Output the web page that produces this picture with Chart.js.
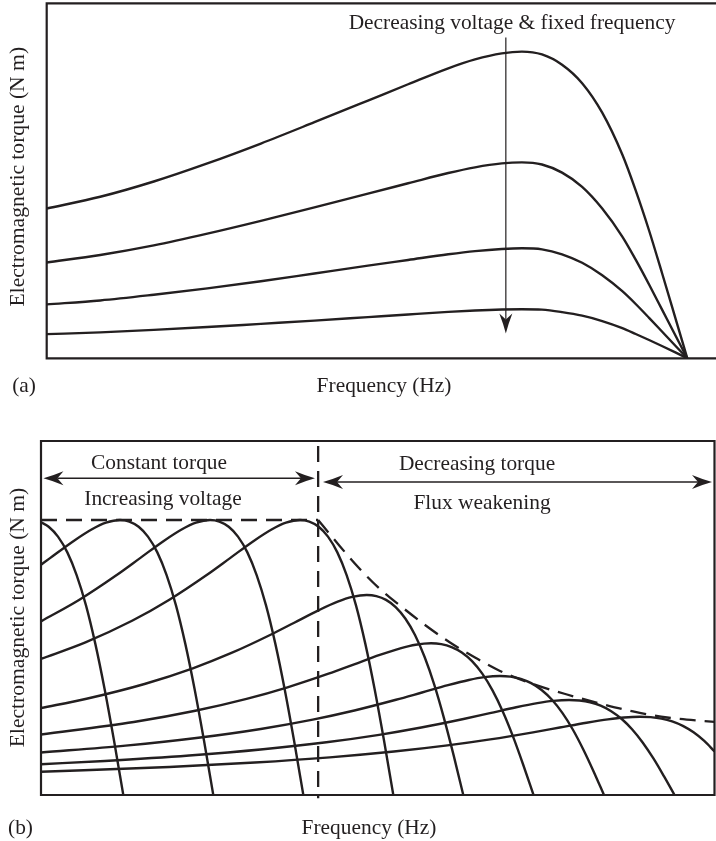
<!DOCTYPE html>
<html>
<head>
<meta charset="utf-8">
<script src="https://cdn.jsdelivr.net/npm/chart.js@4.4.1/dist/chart.umd.min.js"></script>
<style>
html, body { margin: 0; padding: 0; background: #ffffff; overflow: hidden; }
#wrapA { position: absolute; left: 0; top: 0; width: 716px; height: 420px; }
#wrapB { position: absolute; left: 0; top: 420px; width: 716px; height: 421px; }
canvas { display: block; }
</style>
</head>
<body>
<div id="wrapA"><canvas id="chartA" width="716" height="420"></canvas></div>
<div id="wrapB"><canvas id="chartB" width="716" height="421"></canvas></div>
<script>
// ---------- Panel (a): decreasing voltage, fixed frequency (normalised units) ----------
const freqA    = [0, 8, 16, 24, 32, 40, 48, 54, 60, 64, 68, 71, 74, 77, 80, 83, 86, 88, 90, 92, 94, 95.71];
const torqueA1 = [42.2, 45.5, 49.8, 54.9, 60.5, 66.5, 72.6, 77.2, 81.7, 84.2, 85.9, 86.4, 85.6, 82.7, 77.5, 69.2, 57.4, 47.3, 36.0, 23.6, 10.9, 0];
const torqueA2 = [27.0, 29.1, 31.8, 35.1, 38.7, 42.5, 46.4, 49.3, 52.2, 53.8, 54.9, 55.2, 54.6, 52.3, 48.3, 42.2, 34.3, 27.8, 20.8, 13.5, 6.2, 0];
const torqueA3 = [15.2, 16.3, 17.9, 19.7, 21.7, 23.9, 26.1, 27.7, 29.3, 30.2, 30.8, 31.0, 30.7, 29.3, 26.9, 23.4, 18.9, 15.3, 11.4, 7.4, 3.4, 0];
const torqueA4 = [6.8, 7.3, 8.0, 8.8, 9.7, 10.6, 11.6, 12.35, 13.07, 13.47, 13.74, 13.82, 13.70, 13.0, 12.0, 10.5, 8.5, 6.85, 5.15, 3.4, 1.6, 0];

// ---------- Panel (b): constant torque / flux weakening family ----------
const freqB1   = [0, 1.14, 2.52, 3.91, 5.29, 6.68, 8.06, 9.45, 10.84, 12.22];
const torqueB1 = [77.07, 75.78, 72.99, 68.54, 62.14, 53.58, 42.76, 29.88, 15.38, 0];
const freqB2   = [0, 1.34, 4.80, 7.57, 9.65, 11.73, 13.11, 14.50, 15.88, 17.27, 18.65, 20.04, 21.42, 22.81, 24.20, 25.58];
const torqueB2 = [65.06, 66.92, 71.71, 75.08, 76.93, 77.68, 77.25, 75.78, 72.99, 68.54, 62.14, 53.58, 42.76, 29.88, 15.38, 0];
const freqB3   = [0, 5.70, 11.24, 14.71, 18.17, 20.94, 23.02, 25.10, 26.48, 27.87, 29.25, 30.64, 32.02, 33.41, 34.79, 36.18, 37.57, 38.95];
const torqueB3 = [49.05, 55.16, 62.14, 66.92, 71.71, 75.08, 76.93, 77.68, 77.25, 75.78, 72.99, 68.54, 62.14, 53.58, 42.76, 29.88, 15.38, 0];
const freqB4   = [0, 6.60, 13.52, 19.06, 24.60, 28.07, 31.53, 34.30, 36.38, 38.46, 39.84, 41.23, 42.61, 44.00, 45.38, 46.77, 48.15, 49.54, 50.93, 52.31];
const torqueB4 = [38.45, 43.12, 49.21, 55.16, 62.14, 66.92, 71.71, 75.08, 76.93, 77.68, 77.25, 75.78, 72.99, 68.54, 62.14, 53.58, 42.76, 29.88, 15.38, 0];
const freqB5   = [0, 6.76, 15.37, 22.54, 28.28, 34.01, 37.60, 41.19, 44.05, 46.21, 48.36, 49.79, 51.23, 52.66, 54.09, 55.53, 56.96, 58.40, 59.83, 61.27, 62.70];
const torqueB5 = [24.56, 27.19, 31.36, 35.79, 40.12, 45.20, 48.67, 52.16, 54.61, 55.95, 56.50, 56.19, 55.12, 53.09, 49.86, 45.20, 38.97, 31.10, 21.73, 11.19, 0];
const freqB6   = [0, 13.78, 22.91, 30.52, 36.60, 42.69, 46.50, 50.30, 53.35, 55.63, 57.91, 59.43, 60.96, 62.48, 64.00, 65.52, 67.04, 68.56, 70.09, 71.61, 73.13];
const torqueB6 = [17.10, 20.62, 23.79, 27.15, 30.43, 34.28, 36.92, 39.56, 41.41, 42.43, 42.85, 42.61, 41.80, 40.26, 37.81, 34.28, 29.55, 23.59, 16.48, 8.48, 0];
const freqB7   = [0, 12.56, 23.37, 32.63, 40.35, 46.53, 52.71, 56.57, 60.43, 63.52, 65.83, 68.15, 69.69, 71.24, 72.78, 74.33, 75.87, 77.41, 78.96, 80.50, 82.05, 83.59];
const torqueB7 = [12.01, 13.96, 16.18, 18.66, 21.30, 23.87, 26.90, 28.96, 31.03, 32.49, 33.29, 33.62, 33.44, 32.80, 31.59, 29.67, 26.90, 23.19, 18.51, 12.93, 6.66, 0];
const freqB8   = [0, 9.47, 22.00, 32.97, 42.37, 50.20, 56.46, 62.73, 66.65, 70.56, 73.70, 76.05, 78.40, 79.96, 81.53, 83.09, 84.66, 86.23, 87.79, 89.36, 90.93, 92.49, 94.06];
const torqueB8 = [8.70, 9.61, 11.14, 12.92, 14.90, 17.00, 19.06, 21.47, 23.12, 24.78, 25.94, 26.58, 26.84, 26.69, 26.19, 25.22, 23.68, 21.47, 18.51, 14.78, 10.32, 5.31, 0];
const freqB9   = [0, 19.04, 31.75, 42.87, 52.40, 60.35, 66.70, 73.06, 77.03, 81.00, 84.18, 86.56, 88.94, 90.53, 92.12, 93.71, 95.30, 96.89, 98.48, 100];
const torqueB9 = [6.55, 7.92, 9.18, 10.64, 12.28, 14.01, 15.71, 17.70, 19.06, 20.42, 21.38, 21.91, 22.12, 22.00, 21.58, 20.78, 19.52, 17.70, 15.26, 12.31];

// dashed envelope and base-frequency line
const envFlatFreq   = [0, 41.15];
const envFlatTorque = [77.68, 77.68];
const envDropFreq   = [41.15, 44.10, 47.07, 50.33, 53.30, 57.02, 60.73, 64.44, 68.15, 73.05, 78.10, 83.0, 87.90, 92.95, 100];
const envDropTorque = [77.68, 70.90, 64.41, 58.19, 53.53, 48.02, 43.08, 38.84, 35.03, 31.36, 28.39, 25.85, 23.59, 21.89, 20.65];
const baseFreq   = [41.15, 41.15];
const baseTorque = [98.6, -0.9];

// ---------- styling / helpers ----------
const INK = '#231f20';
const FONT = '21.4px "Liberation Serif", "Times New Roman", serif';
const FONT_ROT = '21.6px "Liberation Serif", "Times New Roman", serif';

function pts(xs, ys) { return xs.map((x, i) => ({ x: x, y: ys[i] })); }
function curve(xs, ys) {
  return { data: pts(xs, ys), borderColor: INK, borderWidth: 2.4, pointRadius: 0, fill: false,
           cubicInterpolationMode: 'monotone', tension: 0.4 };
}
function dashed(xs, ys, smooth, noClip) {
  const d = { data: pts(xs, ys), borderColor: INK, borderWidth: 2.3, pointRadius: 0, fill: false,
              borderDash: [16, 9], tension: 0, cubicInterpolationMode: smooth ? 'monotone' : 'default' };
  if (smooth) d.tension = 0.4;
  if (noClip) d.clip = false;
  return d;
}

function arrowHead(ctx, tx, ty, dx, dy, len, half, notch) {
  const px = -dy, py = dx;
  const bx = tx - dx * len, by = ty - dy * len;
  const nx = tx - dx * notch, ny = ty - dy * notch;
  ctx.beginPath();
  ctx.moveTo(tx, ty);
  ctx.quadraticCurveTo(tx - dx * len * 0.45 + px * half * 0.35, ty - dy * len * 0.45 + py * half * 0.35, bx + px * half, by + py * half);
  ctx.lineTo(nx, ny);
  ctx.lineTo(bx - px * half, by - py * half);
  ctx.quadraticCurveTo(tx - dx * len * 0.45 - px * half * 0.35, ty - dy * len * 0.45 - py * half * 0.35, tx, ty);
  ctx.closePath();
  ctx.fill();
}

const annotate = {
  id: 'annotate',
  afterDatasetsDraw(chart, args, o) {
    const ctx = chart.ctx, xs = chart.scales.x, ys = chart.scales.y, a = chart.chartArea;
    ctx.save();
    ctx.strokeStyle = INK; ctx.fillStyle = INK;
    ctx.setLineDash([]);
    // frame
    ctx.lineWidth = 2.2;
    ctx.lineCap = 'square';
    ctx.beginPath();
    if (o.frame.indexOf('t') >= 0) { ctx.moveTo(a.left, a.top); ctx.lineTo(a.right, a.top); }
    if (o.frame.indexOf('l') >= 0) { ctx.moveTo(a.left, a.top); ctx.lineTo(a.left, a.bottom); }
    if (o.frame.indexOf('b') >= 0) { ctx.moveTo(a.left, a.bottom); ctx.lineTo(a.right, a.bottom); }
    if (o.frame.indexOf('r') >= 0) { ctx.moveTo(a.right, a.top); ctx.lineTo(a.right, a.bottom); }
    ctx.stroke();
    ctx.lineCap = 'butt';
    // arrows
    (o.arrows || []).forEach(ar => {
      const x1 = xs.getPixelForValue(ar.x1), y1 = ys.getPixelForValue(ar.y1);
      const x2 = xs.getPixelForValue(ar.x2), y2 = ys.getPixelForValue(ar.y2);
      const L = Math.hypot(x2 - x1, y2 - y1), ux = (x2 - x1) / L, uy = (y2 - y1) / L;
      ctx.lineWidth = ar.w;
      ctx.beginPath();
      ctx.moveTo(x1 + (ar.both ? ux * ar.notch : 0), y1 + (ar.both ? uy * ar.notch : 0));
      ctx.lineTo(x2 - ux * ar.notch, y2 - uy * ar.notch);
      ctx.stroke();
      arrowHead(ctx, x2, y2, ux, uy, ar.len, ar.half, ar.notch);
      if (ar.both) arrowHead(ctx, x1, y1, -ux, -uy, ar.len, ar.half, ar.notch);
    });
    // texts
    ctx.textAlign = 'center';
    ctx.textBaseline = 'alphabetic';
    (o.texts || []).forEach(t => {
      const px = xs.getPixelForValue(t.x), py = ys.getPixelForValue(t.y);
      if (t.rot) {
        ctx.font = FONT_ROT;
        ctx.save(); ctx.translate(px, py); ctx.rotate(-Math.PI / 2);
        ctx.fillText(t.t, 0, 0); ctx.restore();
      } else {
        ctx.font = FONT;
        ctx.fillText(t.t, px, py);
      }
    });
    ctx.restore();
  }
};

function options(pad, annot) {
  return {
    responsive: false, animation: false, devicePixelRatio: 1, events: [],
    layout: { padding: pad, autoPadding: false },
    plugins: { legend: { display: false }, tooltip: { enabled: false }, annotate: annot },
    scales: {
      x: { type: 'linear', min: 0, max: 100, display: false },
      y: { type: 'linear', min: 0, max: 100, display: false }
    }
  };
}

// ---------- chart (a) ----------
new Chart(document.getElementById('chartA'), {
  type: 'line',
  data: { datasets: [
    curve(freqA, torqueA1), curve(freqA, torqueA2), curve(freqA, torqueA3), curve(freqA, torqueA4)
  ] },
  options: options({ left: 46.7, top: 3.3, right: 0, bottom: 61.7 }, {
    frame: 'tlb',
    arrows: [{ x1: 68.6, y1: 90.4, x2: 68.6, y2: 7.0, w: 1.2, len: 20, half: 6.5, notch: 14, both: false }],
    texts: [
      { t: 'Decreasing voltage & fixed frequency', x: 69.52, y: 92.68 },
      { t: 'Frequency (Hz)', x: 50.4, y: -9.49 },
      { t: '(a)', x: -3.39, y: -9.49 },
      { t: 'Electromagnetic torque (N m)', x: -3.32, y: 51.15, rot: true }
    ]
  }),
  plugins: [annotate]
});

// ---------- chart (b) ----------
new Chart(document.getElementById('chartB'), {
  type: 'line',
  data: { datasets: [
    curve(freqB1, torqueB1), curve(freqB2, torqueB2), curve(freqB3, torqueB3),
    curve(freqB4, torqueB4), curve(freqB5, torqueB5), curve(freqB6, torqueB6),
    curve(freqB7, torqueB7), curve(freqB8, torqueB8), curve(freqB9, torqueB9),
    dashed(envFlatFreq, envFlatTorque, false, false),
    dashed(envDropFreq, envDropTorque, true, false),
    dashed(baseFreq, baseTorque, false, true)
  ] },
  options: options({ left: 41, top: 21, right: 1.5, bottom: 46 }, {
    frame: 'tlbr',
    arrows: [
      { x1: 0.36, y1: 89.46, x2: 40.68, y2: 89.46, w: 1.6, len: 20, half: 7, notch: 14, both: true },
      { x1: 41.87, y1: 88.42, x2: 99.63, y2: 88.42, w: 1.6, len: 20, half: 7, notch: 14, both: true }
    ],
    texts: [
      { t: 'Constant torque', x: 17.52, y: 92.23 },
      { t: 'Increasing voltage', x: 18.11, y: 81.92 },
      { t: 'Decreasing torque', x: 64.74, y: 91.67 },
      { t: 'Flux weakening', x: 65.48, y: 80.65 },
      { t: 'Frequency (Hz)', x: 48.7, y: -10.88 },
      { t: '(b)', x: -3.04, y: -10.88 },
      { t: 'Electromagnetic torque (N m)', x: -2.52, y: 50.14, rot: true }
    ]
  }),
  plugins: [annotate]
});
</script>
</body>
</html>
